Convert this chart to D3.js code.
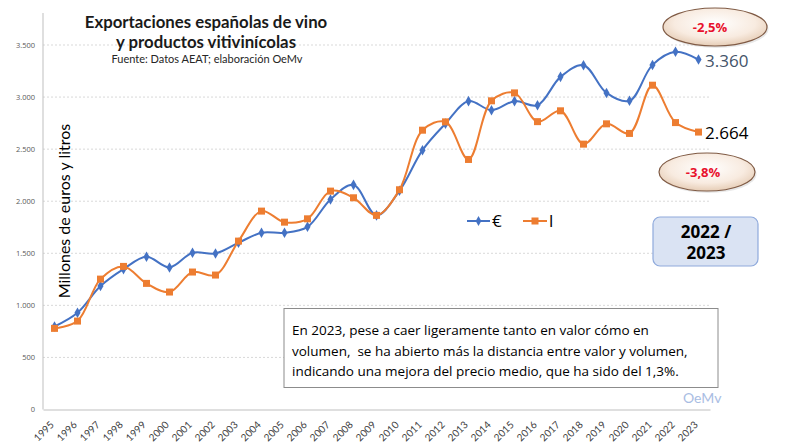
<!DOCTYPE html>
<html><head><meta charset="utf-8">
<script src="https://cdn.jsdelivr.net/npm/d3@7"></script>
<style>
body{margin:0;background:#fff;}
svg{display:block;font-family:Lato, "Open Sans", sans-serif;}
text{white-space:pre;}
</style></head>
<body><svg id="c" width="792" height="446"></svg>
<script>
const years = ["1995","1996","1997","1998","1999","2000","2001","2002","2003","2004","2005","2006","2007","2008","2009","2010","2011","2012","2013","2014","2015","2016","2017","2018","2019","2020","2021","2022","2023"];
const euros = [797,929,1185,1348,1466,1364,1505,1499,1601,1697,1697,1754,2017,2157,1864,2100,2490,2745,2961,2874,2961,2922,3194,3306,3040,2964,3309,3435,3360];
const litros = [779,849,1252,1374,1211,1128,1320,1291,1617,1905,1799,1831,2097,2033,1864,2110,2682,2762,2401,2964,3040,2764,2868,2548,2743,2651,3114,2755,2664];
const yTicks = [0,500,1000,1500,2000,2500,3000,3500];
const titleLines = ["Exportaciones españolas de vino","y productos vitivinícolas"];
const sourceText = "Fuente: Datos AEAT; elaboración OeMv";
const yTitle = "Millones de euros y litros";
const seriesNames = ["€","l"];
const endLabels = ["3.360","2.664"];
const changes = ["-2,5%","-3,8%"];
const periodLines = ["2022 /","2023"];
const noteLines = ["En 2023, pese a caer ligeramente tanto en valor cómo en","volumen,  se ha abierto más la distancia entre valor y volumen,","indicando una mejora del precio medio, que ha sido del 1,3%."];

const svg = d3.select("#c");
const loc = d3.formatLocale({decimal:",",thousands:".",grouping:[3],currency:["","€"]});
const fmt = loc.format(",d");
const L=43,R=710,B=409.5,T=45;
const OS = "'Open Sans', sans-serif";
const x = d3.scaleBand().domain(years).range([L,R]).padding(0);
const xc = d => x(d)+x.bandwidth()/2;
const y = d3.scaleLinear().domain([0,3500]).range([B,T]);

const defs = svg.append("defs");
const g1 = defs.append("radialGradient").attr("id","ov").attr("cx","50%").attr("cy","40%").attr("r","60%");
g1.append("stop").attr("offset","0%").attr("stop-color","#ffffff");
g1.append("stop").attr("offset","65%").attr("stop-color","#f8ebe0");
g1.append("stop").attr("offset","100%").attr("stop-color","#e6cdb6");

// gridlines
svg.append("g").selectAll("line").data(yTicks.filter(d=>d>0)).join("line")
  .attr("x1",L).attr("x2",R).attr("y1",d=>y(d)).attr("y2",d=>y(d))
  .attr("stroke","#d9d9d9").attr("stroke-width",1).attr("stroke-dasharray","2,2");

// y axis
const ya = svg.append("g").attr("transform",`translate(${L},0)`)
  .call(d3.axisLeft(y).tickValues(yTicks).tickFormat(fmt).tickSize(0).tickPadding(8));
ya.select(".domain").remove();
ya.selectAll("text").attr("font-size",7.5).attr("fill","#595959").attr("font-family",OS);
svg.append("line").attr("x1",L).attr("x2",L).attr("y1",13).attr("y2",B).attr("stroke","#bfbfbf");

// x axis
const xa = svg.append("g").attr("transform",`translate(0,${B})`)
  .call(d3.axisBottom(x).tickSize(0).tickPadding(0));
xa.select(".domain").attr("stroke","#bfbfbf");
xa.selectAll("text").attr("font-size",10).attr("fill","#404040").attr("font-family","Lato, sans-serif")
  .attr("text-anchor","end").attr("dy",0)
  .attr("transform","translate(0,16) rotate(-45)");

// y title
svg.append("text").attr("transform","translate(70,211) rotate(-90)")
  .attr("text-anchor","middle").attr("font-size",16).attr("fill","#000").text(yTitle);

// title
svg.append("g").selectAll("text").data(titleLines).join("text")
  .attr("x",206).attr("y",(d,i)=>28+i*20).attr("text-anchor","middle")
  .attr("font-size",16.8).attr("font-weight","bold").attr("fill","#1a1a1a").text(d=>d);
svg.append("text").attr("x",207).attr("y",63).attr("text-anchor","middle")
  .attr("font-size",11).attr("fill","#262626").text(sourceText);

// lines
const line = d3.line().x((d,i)=>xc(years[i])).y(d=>y(d)).curve(d3.curveCatmullRom.alpha(0.5));
const cols = ["#4472c4","#ed7d31"];
[euros,litros].forEach((s,k)=>{
  svg.append("path").datum(s).attr("d",line).attr("fill","none").attr("stroke",cols[k]).attr("stroke-width",2);
});
svg.append("g").selectAll("path").data(euros).join("path")
  .attr("transform",(d,i)=>`translate(${xc(years[i])},${y(d)})`)
  .attr("d",d3.symbol(d3.symbolDiamond,32)).attr("fill",cols[0]);
svg.append("g").selectAll("rect").data(litros).join("rect")
  .attr("x",(d,i)=>xc(years[i])-3.5).attr("y",d=>y(d)-3.5).attr("width",7).attr("height",7).attr("fill",cols[1]);

// end labels
svg.append("text").attr("x",705).attr("y",67).attr("font-size",17).attr("font-family",OS).attr("fill","#44546a").text(endLabels[0]);
svg.append("text").attr("x",705).attr("y",139).attr("font-size",17).attr("font-family",OS).attr("fill","#000").text(endLabels[1]);

// ovals
const ovals = [{cx:715,cy:27,rx:52,ry:19},{cx:707,cy:172,rx:48,ry:19}];
ovals.forEach((o,i)=>{
  svg.append("ellipse").attr("cx",o.cx+1.5).attr("cy",o.cy+2).attr("rx",o.rx).attr("ry",o.ry).attr("fill","#d9d9d9").attr("opacity",0.6);
  svg.append("ellipse").attr("cx",o.cx).attr("cy",o.cy).attr("rx",o.rx).attr("ry",o.ry)
    .attr("fill","url(#ov)").attr("stroke","#7f5a44").attr("stroke-width",1.2);
  svg.append("text").attr("x",o.cx-5+(i?1:0)).attr("y",o.cy+5).attr("text-anchor","middle")
    .attr("font-size",13).attr("font-family",OS).attr("font-weight","bold").attr("fill","#e8112d").text(changes[i]);
});

// legend
const lg = svg.append("g");
lg.append("line").attr("x1",467).attr("x2",490).attr("y1",221).attr("y2",221).attr("stroke",cols[0]).attr("stroke-width",2);
lg.append("path").attr("transform","translate(478.5,221)").attr("d",d3.symbol(d3.symbolDiamond,28)).attr("fill",cols[0]);
lg.append("text").attr("x",492).attr("y",227).attr("font-size",17).attr("font-family",OS).attr("fill","#000").text(seriesNames[0]);
lg.append("line").attr("x1",523).attr("x2",547).attr("y1",221).attr("y2",221).attr("stroke",cols[1]).attr("stroke-width",2);
lg.append("rect").attr("x",531.5).attr("y",217.5).attr("width",7).attr("height",7).attr("fill",cols[1]);
lg.append("text").attr("x",549).attr("y",227).attr("font-size",17).attr("font-family",OS).attr("fill","#000").text(seriesNames[1]);

// period box
svg.append("rect").attr("x",653).attr("y",217).attr("width",105).attr("height",49).attr("rx",7)
  .attr("fill","#dae3f3").attr("stroke","#8faadc").attr("stroke-width",1.2);
svg.append("g").selectAll("text").data(periodLines).join("text")
  .attr("x",706).attr("y",(d,i)=>238+i*21).attr("text-anchor","middle").attr("font-family",OS)
  .attr("font-size",17).attr("font-weight","bold").attr("fill","#000").text(d=>d);

// note box
svg.append("rect").attr("x",284).attr("y",308.5).attr("width",434).attr("height",79)
  .attr("fill","#fff").attr("stroke","#8c8c8c").attr("stroke-width",1);
svg.append("g").selectAll("text").data(noteLines).join("text")
  .attr("x",292).attr("y",(d,i)=>335+i*20.5).attr("font-size",13.5).attr("font-family",OS).attr("fill","#000").text(d=>d);

// watermark
svg.append("text").attr("x",683).attr("y",403).attr("font-size",14).attr("fill","#a9bde3").text("OeMv");
</script></body></html>
